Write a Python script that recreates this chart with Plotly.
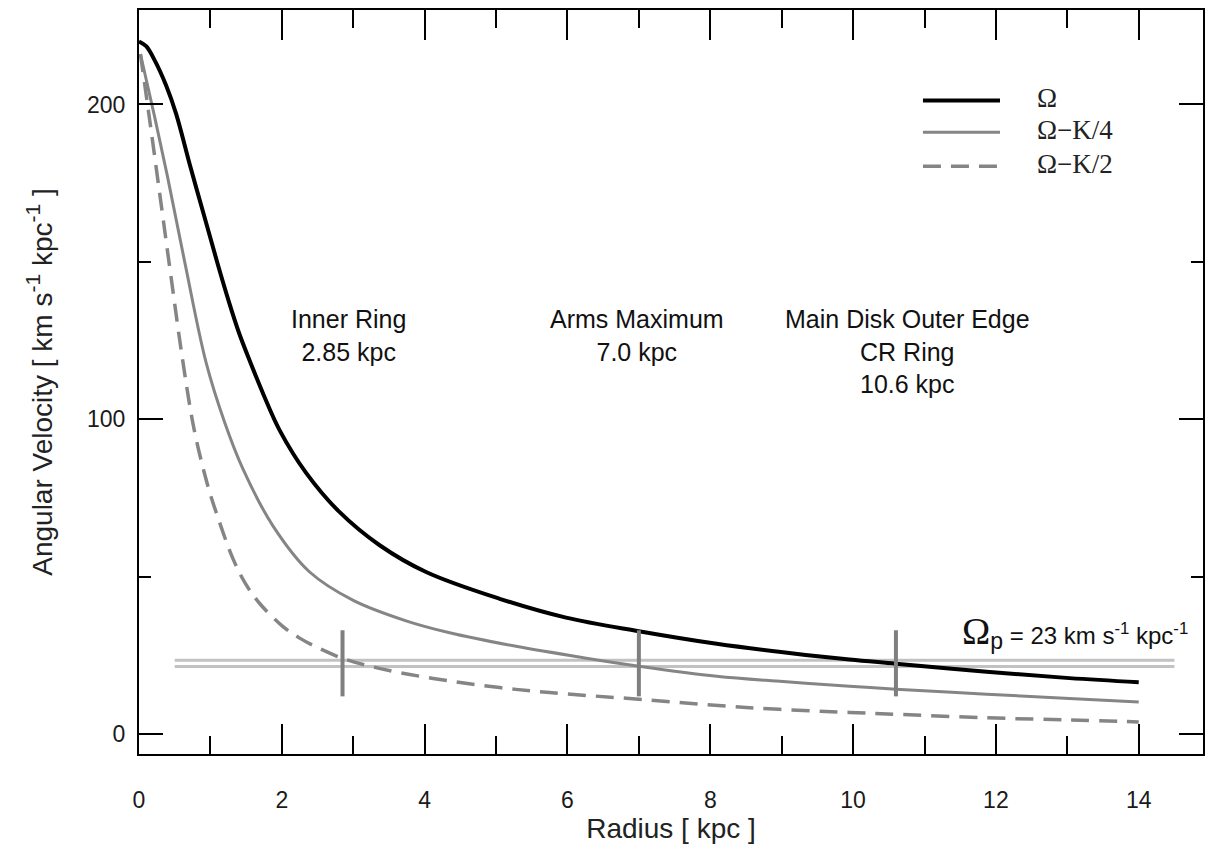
import plotly.graph_objects as go

# ---- data ----
r_omega = [0.0, 0.1, 0.22, 0.38, 0.52, 0.71, 0.92, 1.1, 1.25, 1.4, 1.57, 1.75, 1.97, 2.34,
           2.81, 3.37, 4.02, 5.05, 5.98, 7.0, 8.09, 9.02, 9.95, 10.6, 11.87, 13.03, 14.0]
omega = [220, 218.5, 214, 206, 197, 181, 164, 149.5, 138, 127.5, 117.5, 107.5, 96.5, 83,
         70.5, 60, 51.5, 43, 37, 32.7, 28.7, 26.0, 23.7, 22.4, 19.8, 17.8, 16.5]

r_k4 = [0.02, 0.1, 0.22, 0.4, 0.64, 0.94, 1.2, 1.46, 1.88, 2.39, 3.0, 3.74, 4.35, 5.28,
        6.22, 7.0, 8.09, 9.02, 9.95, 10.6, 11.87, 13.03, 14.0]
omega_k4 = [216, 208, 196, 177, 150, 118, 99, 84, 66, 51.5, 42.5, 36, 32.2, 27.9,
            24.3, 21.6, 18.4, 16.7, 15.2, 14.3, 12.7, 11.3, 10.2]

r_k2 = [0.02, 0.15, 0.3, 0.45, 0.61, 0.77, 0.95, 1.08, 1.32, 1.5, 1.69, 2.0, 2.25, 2.5,
        2.86, 3.2, 3.66, 4.35, 5.05, 5.75, 7.0, 8.55, 9.95, 10.6, 11.87, 13.03, 14.0]
omega_k2 = [216, 195, 170, 145, 119, 97, 80, 70.5, 55.5, 47.5, 41.5, 34.5, 30.5, 27.5,
            24, 21.8, 19.5, 16.9, 14.8, 13.2, 11.1, 8.4, 6.9, 6.3, 5.2, 4.5, 3.9]

omega_p_levels = [23.5, 21.5]          # the two pattern-speed lines
omega_p_extent = [0.5, 14.5]           # radial extent of those lines
marker_radii = [2.85, 7.0, 10.6]       # resonance markers
marker_span = [12, 33]                 # vertical extent of markers
label_x = [2.93, 6.98, 10.76]
label_text = ["Inner Ring<br>2.85 kpc", "Arms Maximum<br>7.0 kpc",
              "Main Disk Outer Edge<br>CR Ring<br>10.6 kpc"]
label_y = [137, 137, 137]

legend_names = ["Ω", "Ω−K/4", "Ω−K/2"]

SANS = "Liberation Sans, Arial, sans-serif"
SERIF = "Liberation Serif, Times New Roman, serif"
GRAY = "#858585"
styles = [dict(color="black", width=4),
          dict(color=GRAY, width=3),
          dict(color=GRAY, width=3.5, dash="18px,10px")]

fig = go.Figure()

# Pattern speed lines
for lvl in omega_p_levels:
    fig.add_trace(go.Scatter(x=omega_p_extent, y=[lvl, lvl], mode="lines",
                             line=dict(color="#c2c2c2", width=3), showlegend=False,
                             hoverinfo="skip"))

# Curves
for rr, vv, name, st in zip([r_omega, r_k4, r_k2], [omega, omega_k4, omega_k2],
                            legend_names, styles):
    fig.add_trace(go.Scatter(x=rr, y=vv, mode="lines", name=name, showlegend=False,
                             line=dict(shape="spline", smoothing=1.0, **st)))

# Resonance markers
mx, my = [], []
for r in marker_radii:
    mx += [r, r, None]
    my += [marker_span[0], marker_span[1], None]
fig.add_trace(go.Scatter(x=mx, y=my, mode="lines", line=dict(color="#7f7f7f", width=4),
                         showlegend=False, hoverinfo="skip"))

for x, y, t in zip(label_x, label_y, label_text):
    fig.add_annotation(x=x, y=y, text=t, showarrow=False, xanchor="center", yanchor="top",
                       font=dict(family=SANS, size=25, color="#111111"), align="center")

fig.add_annotation(
    x=14.72, y=32.5, xanchor="right", yanchor="middle", showarrow=False,
    text=('<span style="font-family:Liberation Serif;font-size:38px">Ω</span>'
          '<sub><span style="font-size:23px">p</span></sub>'
          ' = 23 km s<sup>-1</sup> kpc<sup>-1</sup>'),
    font=dict(family=SANS, size=24, color="#111111"))

# Manual legend (key lines + labels), placed in paper coordinates
leg_x0, leg_x1, leg_tx = 0.7368, 0.8092, 0.8421
leg_rows = [0.8783, 0.8356, 0.7901]
for yy, name, st in zip(leg_rows, legend_names, styles):
    fig.add_shape(type="line", xref="paper", yref="paper", x0=leg_x0, x1=leg_x1,
                  y0=yy, y1=yy, line=st)
    fig.add_annotation(xref="paper", yref="paper", x=leg_tx, y=yy + 0.003, text=name,
                       showarrow=False, xanchor="left", yanchor="middle",
                       font=dict(family=SERIF, size=27, color="#222222"))

axis_common = dict(showline=True, linecolor="black", linewidth=2, mirror="ticks",
                   ticks="inside", tickcolor="black", tickwidth=2, showgrid=False,
                   zeroline=False, tickfont=dict(family=SANS, size=23, color="#1a1a1a"))

fig.update_layout(
    width=1215, height=844,
    margin=dict(l=139, r=12, t=8, b=88),
    paper_bgcolor="white", plot_bgcolor="white",
    xaxis=dict(range=[0, 14.9], dtick=2, tick0=0, ticklen=30,
               minor=dict(dtick=1, ticklen=18, ticks="inside", tickcolor="black",
                          tickwidth=2, showgrid=False),
               ticklabelstandoff=24,
               title=dict(text="Radius [ kpc ]", standoff=4,
                          font=dict(family=SANS, size=28, color="#222222")),
               **axis_common),
    yaxis=dict(range=[-6.3, 230], dtick=100, tick0=0, ticklen=24,
               minor=dict(dtick=50, ticklen=12, ticks="inside", tickcolor="black",
                          tickwidth=2, showgrid=False),
               ticklabelstandoff=7,
               title=dict(text=('Angular Velocity [ km s<sup><span style="font-size:21px">-1</span></sup>'
                                ' kpc<sup><span style="font-size:21px">-1</span></sup> ]'),
                          standoff=26, font=dict(family=SANS, size=28, color="#222222")),
               **axis_common),
    showlegend=False,
)

fig.write_html("out.html", config={"displayModeBar": False},
               post_script="document.body.style.margin='0px';")
